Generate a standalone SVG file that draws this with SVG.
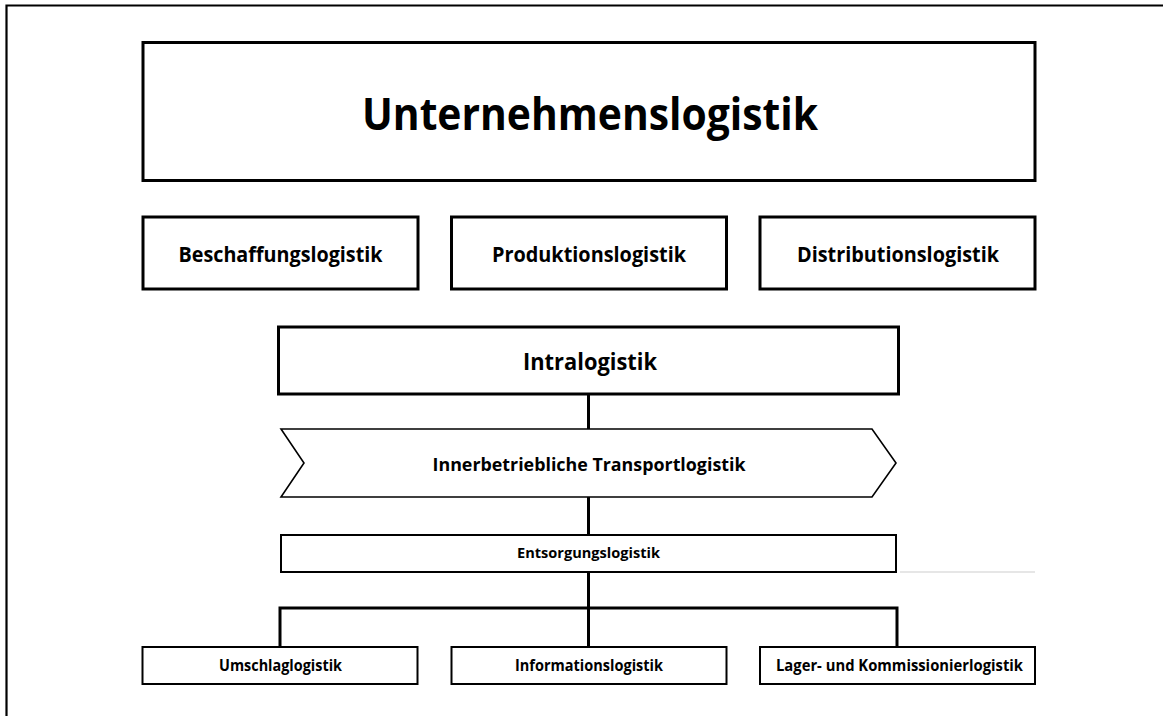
<svg xmlns="http://www.w3.org/2000/svg" width="1163" height="716" viewBox="0 0 1163 716">
<style>
.box{fill:#fff;stroke:#000;stroke-width:3}
.thin{fill:#fff;stroke:#000;stroke-width:2}
.chev{fill:#fff;stroke:#000;stroke-width:1.6;stroke-linejoin:miter}
.con{fill:none;stroke:#000;stroke-width:3}
text{font-family:"Open Sans","Noto Sans","DejaVu Sans",sans-serif;font-weight:bold;fill:#000;text-anchor:middle}
</style>
<rect width="1163" height="716" fill="#fff"/>
<path d="M6.5,716 V5.5 H1163" fill="none" stroke="#000" stroke-width="2.2"/>
<line x1="900" y1="572" x2="1035" y2="572" stroke="#e6e6e6" stroke-width="2"/>
<g id="connectors">
<line class="con" x1="588.5" y1="394" x2="588.5" y2="429"/>
<line class="con" x1="588.5" y1="497" x2="588.5" y2="535"/>
<line class="con" x1="588.5" y1="572" x2="588.5" y2="647"/>
<path class="con" d="M280,647 V608 H897 V647"/>
</g>
<g id="unternehmenslogistik">
<rect class="box" x="143" y="42.5" width="892" height="138"/>
<text x="590" y="130" font-size="45" textLength="456" lengthAdjust="spacingAndGlyphs">Unternehmenslogistik</text>
</g>
<g id="beschaffungslogistik">
<rect class="box" x="143" y="217" width="275" height="72"/>
<text x="280.5" y="262" font-size="21" textLength="204" lengthAdjust="spacingAndGlyphs">Beschaffungslogistik</text>
</g>
<g id="produktionslogistik">
<rect class="box" x="451.5" y="217" width="275" height="72"/>
<text x="589" y="262" font-size="21" textLength="194" lengthAdjust="spacingAndGlyphs">Produktionslogistik</text>
</g>
<g id="distributionslogistik">
<rect class="box" x="760" y="217" width="275" height="72"/>
<text x="898" y="262" font-size="21" textLength="202" lengthAdjust="spacingAndGlyphs">Distributionslogistik</text>
</g>
<g id="intralogistik">
<rect class="box" x="278.5" y="327" width="620" height="67"/>
<text x="590" y="370" font-size="23" textLength="134" lengthAdjust="spacingAndGlyphs">Intralogistik</text>
</g>
<g id="transportlogistik">
<path class="chev" d="M281,429 H872 L896,463 L872,497 H281 L304,463 Z"/>
<text x="589" y="471" font-size="18" textLength="313" lengthAdjust="spacingAndGlyphs">Innerbetriebliche Transportlogistik</text>
</g>
<g id="entsorgungslogistik">
<rect class="thin" x="281" y="535" width="615" height="37"/>
<text x="588.5" y="558" font-size="13.5" textLength="143" lengthAdjust="spacingAndGlyphs">Entsorgungslogistik</text>
</g>
<g id="umschlaglogistik">
<rect class="thin" x="142.5" y="647" width="275" height="37"/>
<text x="280.5" y="671" font-size="15.5" textLength="123" lengthAdjust="spacingAndGlyphs">Umschlaglogistik</text>
</g>
<g id="informationslogistik">
<rect class="thin" x="451.5" y="647" width="275" height="37"/>
<text x="589" y="671" font-size="15.5" textLength="148" lengthAdjust="spacingAndGlyphs">Informationslogistik</text>
</g>
<g id="lagerlogistik">
<rect class="thin" x="760" y="647" width="275" height="37"/>
<text x="899.5" y="671" font-size="15.5" textLength="247" lengthAdjust="spacingAndGlyphs">Lager- und Kommissionierlogistik</text>
</g>
</svg>
